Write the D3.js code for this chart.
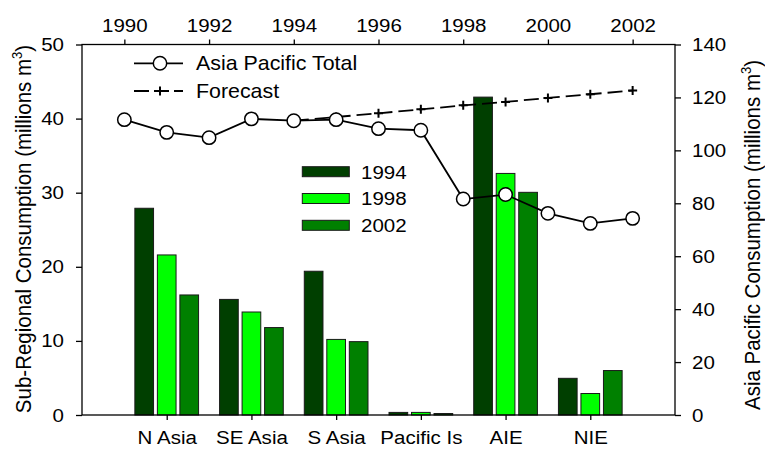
<!DOCTYPE html>
<html>
<head>
<meta charset="utf-8">
<script src="https://cdn.jsdelivr.net/npm/d3@7/dist/d3.min.js"></script>
<style>
  html, body { margin: 0; padding: 0; background: #fff; }
  svg { display: block; font-family: "Liberation Sans", Arial, Helvetica, sans-serif; }
</style>
</head>
<body>
<svg id="chart" width="765" height="450"></svg>
<script>
// Sub-regional consumption (left axis), by region and year
const regions = ["N Asia", "SE Asia", "S Asia", "Pacific Is", "AIE", "NIE"];
const barYears = ["1994", "1998", "2002"];
const values1994 = [27.9, 15.6, 19.4, 0.35, 42.9, 4.95];
const values1998 = [21.6, 13.9, 10.2, 0.35, 32.6, 2.9];
const values2002 = [16.2, 11.8, 9.9, 0.2, 30.05, 6.0];
const barColors = ["#003f00", "#00ff00", "#008000"];

// Asia Pacific total consumption (right axis)
const totalYears = [1990, 1991, 1992, 1993, 1994, 1995, 1996, 1997, 1998, 1999, 2000, 2001, 2002];
const totalValues = [111.6, 106.8, 104.8, 111.9, 111.2, 111.6, 108.2, 107.6, 81.6, 83.3, 76.2, 72.4, 74.3];
const forecastYears = [1994, 1995, 1996, 1997, 1998, 1999, 2000, 2001, 2002];
const forecastValues = [111.2, 112.6, 114.0, 115.5, 117.0, 118.3, 119.8, 121.2, 122.6];

// Tick labels
const yearTicks = [1990, 1992, 1994, 1996, 1998, 2000, 2002];
const leftTicks = [0, 10, 20, 30, 40, 50];
const rightTicks = [0, 20, 40, 60, 80, 100, 120, 140];

const svg = d3.select("#chart");
const L = 82, R = 675, T = 44.5, B = 415;
const tickFont = 19;
const WIDEN = 1.08; // slightly widened lettering

const xYear = d3.scaleLinear().domain([1989, 2003]).range([L, R]);
const xRegion = d3.scalePoint().domain(regions).range([xYear(1991), xYear(2001)]);
const xInner = d3.scaleBand().domain(barYears).range([-31.85, 31.85]).paddingInner(0.17);
const yLeft = d3.scaleLinear().domain([0, 50]).range([B, T]);
const yRight = d3.scaleLinear().domain([0, 140]).range([B, T]);

const seriesValues = [values1994, values1998, values2002];

// Horizontal text, widened about its own anchor
function wideText(sel) {
  sel.each(function () {
    const t = d3.select(this);
    const x = +t.attr("x") || 0;
    t.attr("x", x / WIDEN).attr("transform", `scale(${WIDEN},1)`);
  });
}

// Bars
const barG = svg.append("g");
barYears.forEach((yr, si) => {
  barG.selectAll(null)
    .data(regions.map((r, i) => ({ region: r, value: seriesValues[si][i] })))
    .join("rect")
    .attr("x", d => xRegion(d.region) + xInner(yr))
    .attr("width", xInner.bandwidth())
    .attr("y", d => yLeft(d.value))
    .attr("height", d => yLeft(0) - yLeft(d.value))
    .attr("fill", barColors[si])
    .attr("stroke", "#1a1a1a")
    .attr("stroke-width", 1);
});

// Axes
function styleAxis(g) {
  g.selectAll("path.domain").remove();
  g.selectAll(".tick line").attr("stroke", "#000").attr("stroke-width", 1.3);
  g.selectAll(".tick text").attr("font-size", tickFont).attr("fill", "#000")
    .attr("font-family", "Liberation Sans, Arial, sans-serif")
    .call(wideText);
}

svg.append("g").attr("transform", `translate(${L},0)`)
  .call(d3.axisLeft(yLeft).tickValues(leftTicks).tickSize(6).tickPadding(12))
  .call(styleAxis);

svg.append("g").attr("transform", `translate(${R},0)`)
  .call(d3.axisRight(yRight).tickValues(rightTicks).tickSize(6).tickPadding(11))
  .call(styleAxis);

svg.append("g").attr("transform", `translate(0,${T})`)
  .call(d3.axisTop(xYear).tickValues(yearTicks).tickFormat(d3.format("d")).tickSize(5).tickPadding(8))
  .call(styleAxis);

svg.append("g").attr("transform", `translate(0,${B})`)
  .call(d3.axisBottom(xRegion).tickSize(5).tickPadding(11))
  .call(styleAxis);

// Frame
svg.append("rect")
  .attr("x", L).attr("y", T).attr("width", R - L).attr("height", B - T)
  .attr("fill", "none").attr("stroke", "#000").attr("stroke-width", 1.3);

// Axis titles
function axisTitle(x, y, main) {
  const t = svg.append("text")
    .attr("transform", `translate(${x},${y}) rotate(-90) scale(1,${WIDEN})`)
    .attr("text-anchor", "middle")
    .attr("font-size", 20.5)
    .attr("fill", "#000");
  t.append("tspan").text(main + " (millions m");
  t.append("tspan").attr("font-size", 13).attr("dy", -8).text("3");
  t.append("tspan").attr("dy", 8).text(")");
}
axisTitle(31, 229, "Sub-Regional Consumption");
axisTitle(760, 235, "Asia Pacific Consumption");

// Forecast line
const lineF = d3.line().x((d, i) => xYear(forecastYears[i])).y(d => yRight(d));
svg.append("path")
  .attr("d", lineF(forecastValues))
  .attr("fill", "none").attr("stroke", "#000").attr("stroke-width", 1.8)
  .attr("stroke-dasharray", "15,6");

function plus(g, cx, cy) {
  g.append("path")
    .attr("d", `M${cx - 4.5},${cy}H${cx + 4.5}M${cx},${cy - 4.5}V${cy + 4.5}`)
    .attr("stroke", "#000").attr("stroke-width", 2);
}
const plusG = svg.append("g");
forecastValues.forEach((v, i) => plus(plusG, xYear(forecastYears[i]), yRight(v)));

// Total line with open circles
const lineT = d3.line().x((d, i) => xYear(totalYears[i])).y(d => yRight(d));
svg.append("path")
  .attr("d", lineT(totalValues))
  .attr("fill", "none").attr("stroke", "#000").attr("stroke-width", 1.8);

svg.append("g").selectAll("circle")
  .data(totalValues)
  .join("circle")
  .attr("cx", (d, i) => xYear(totalYears[i]))
  .attr("cy", d => yRight(d))
  .attr("r", 6.7)
  .attr("fill", "#fff").attr("stroke", "#000").attr("stroke-width", 1.5);

// Line legend
const lg = svg.append("g");
lg.append("line").attr("x1", 134).attr("x2", 183).attr("y1", 63.3).attr("y2", 63.3)
  .attr("stroke", "#000").attr("stroke-width", 1.8);
lg.append("circle").attr("cx", 160).attr("cy", 63.3).attr("r", 6.7)
  .attr("fill", "#fff").attr("stroke", "#000").attr("stroke-width", 1.5);
lg.append("text").attr("x", 196).attr("y", 70).attr("font-size", 19.8).text("Asia Pacific Total");

lg.append("line").attr("x1", 134).attr("x2", 183).attr("y1", 91).attr("y2", 91)
  .attr("stroke", "#000").attr("stroke-width", 1.8).attr("stroke-dasharray", "15,5");
plus(lg, 160, 91);
lg.append("text").attr("x", 196).attr("y", 98).attr("font-size", 19.8).text("Forecast");

// Bar legend
const bl = svg.append("g");
barYears.forEach((yr, i) => {
  const y0 = 166.7 + i * 26.8;
  bl.append("rect").attr("x", 302.3).attr("y", y0).attr("width", 47).attr("height", 10)
    .attr("fill", barColors[i]).attr("stroke", "#1a1a1a").attr("stroke-width", 1);
  bl.append("text").attr("x", 361).attr("y", y0 + 12).attr("font-size", 19).text(yr);
});
lg.selectAll("text").call(wideText);
bl.selectAll("text").call(wideText);
</script>
</body>
</html>
